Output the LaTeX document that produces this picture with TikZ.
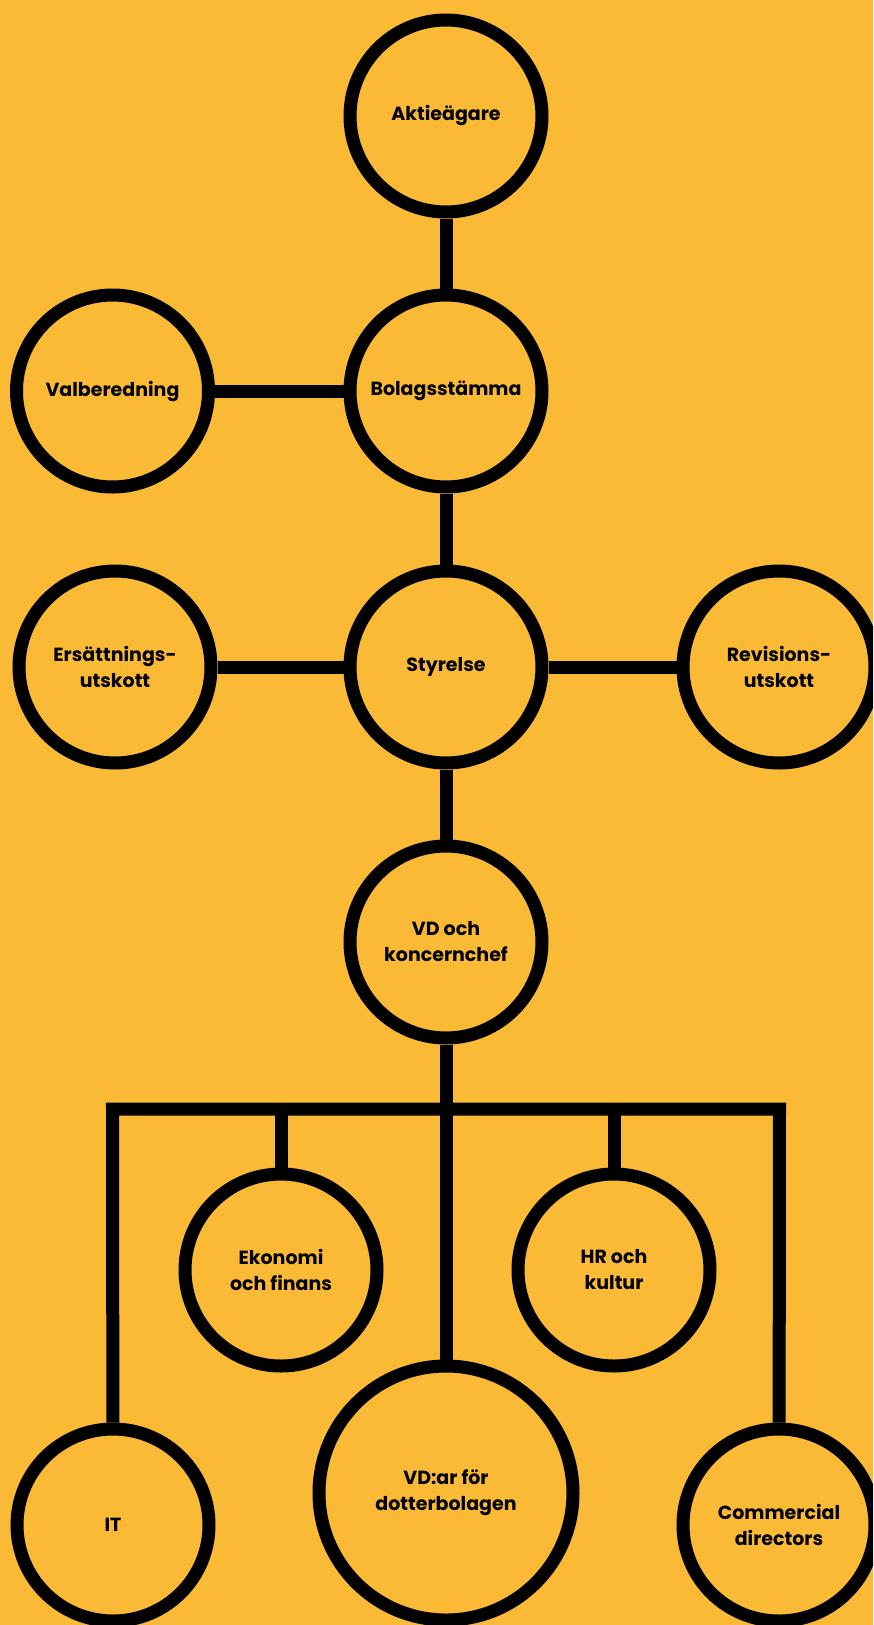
\documentclass[tikz,border=0pt]{standalone}
\usepackage{fontspec}
\setmainfont{Poppins}
\definecolor{bgyellow}{RGB}{250,186,53}
\begin{document}
\begin{tikzpicture}[x=1pt,y=-1pt,
  org/.style={circle, draw=black, line width=13pt, minimum size=192pt, inner sep=0pt,
    align=center, text=black, font=\bfseries\fontsize{19}{26}\selectfont},
  big/.style={org, minimum size=254pt},
  link/.style={draw=black, line width=13pt, line join=miter}]
\useasboundingbox (0,0) rectangle (873,1625);
\clip (0,0) rectangle (873,1625);
\fill[bgyellow] (0,0) rectangle (873,1625);
\node[org] (akt) at (446,116) {Aktieägare};
\node[org] (bol) at (446,391) {Bolagsstämma};
\node[org] (val) at (112.5,391) {Valberedning};
\node[org] (sty) at (446,667) {Styrelse};
\node[org] (ers) at (115,667) {Ersättnings-\\utskott};
\node[org] (rev) at (779,667) {Revisions-\\utskott};
\node[org] (vd) at (446,942) {VD och\\koncernchef};
\node[org] (eko) at (281,1270) {Ekonomi\\och finans};
\node[org] (hr) at (614,1270) {HR och\\kultur};
\node[org] (it) at (113,1525) {IT};
\node[big] (vdar) at (446,1493) {VD:ar för\\dotterbolagen};
\node[org] (com) at (779,1525) {Commercial\\directors};
\coordinate (busL) at (112.5,1109);
\coordinate (busR) at (779.5,1109);
\path[link] (akt) -- (bol);
\path[link] (val) -- (bol);
\path[link] (bol) -- (sty);
\path[link] (ers) -- (sty);
\path[link] (sty) -- (rev);
\path[link] (sty) -- (vd);
\path[link] (vd) -- (vdar);
\path[link] (it) -- (busL) -- (busR) -- (com);
\path[link] (eko) -- (eko |- busL);
\path[link] (hr) -- (hr |- busL);
\end{tikzpicture}
\end{document}
